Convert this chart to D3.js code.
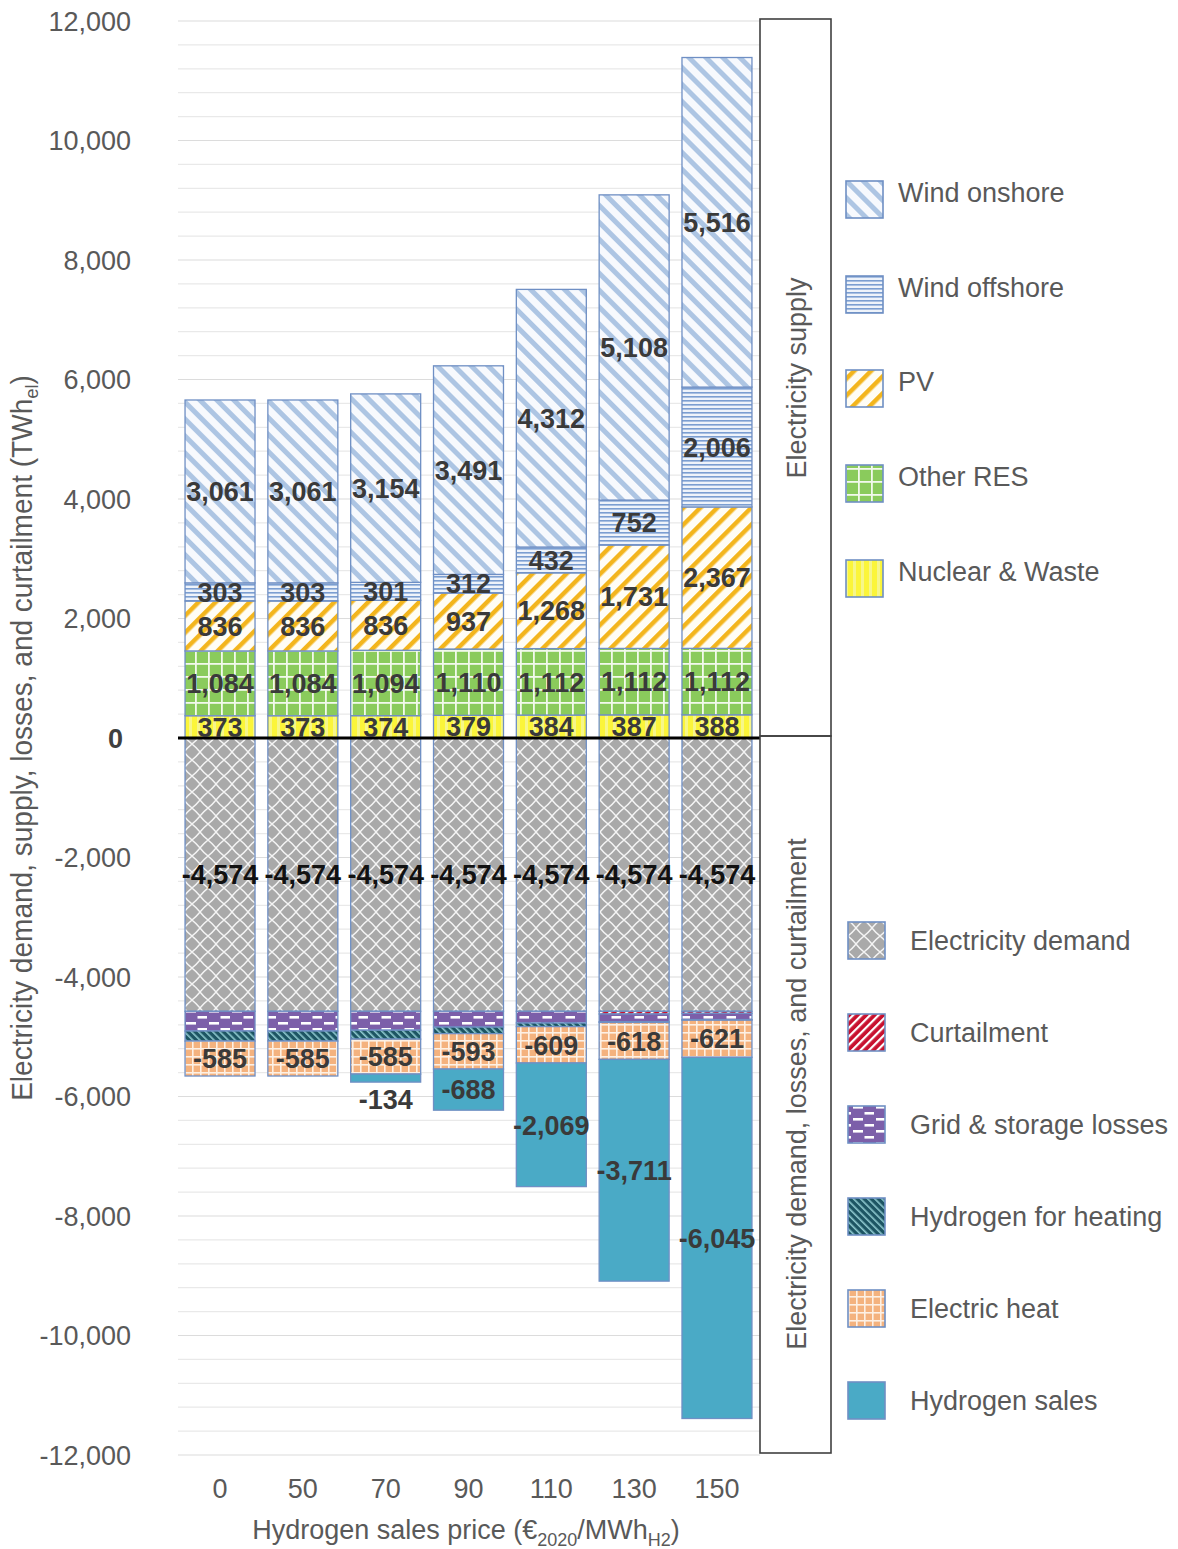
<!DOCTYPE html>
<html>
<head>
<meta charset="utf-8">
<script src="https://cdn.jsdelivr.net/npm/d3@7"></script>
<style>
  body { margin: 0; background: #fff; }
  text { font-family: "Liberation Sans", Arial, sans-serif; }
</style>
</head>
<body>
<svg id="chart" width="1178" height="1549"></svg>
<script>
// Hydrogen sales price scenarios (€2020/MWh H2)
const categories = ["0", "50", "70", "90", "110", "130", "150"];

// Electricity supply (TWh_el)
const nuclearWaste = [373, 373, 374, 379, 384, 387, 388];
const otherRES     = [1084, 1084, 1094, 1110, 1112, 1112, 1112];
const pv           = [836, 836, 836, 937, 1268, 1731, 2367];
const windOffshore = [303, 303, 301, 312, 432, 752, 2006];
const windOnshore  = [3061, 3061, 3154, 3491, 4312, 5108, 5516];

// Electricity demand, losses and curtailment (TWh_el)
const electricityDemand = [-4574, -4574, -4574, -4574, -4574, -4574, -4574];
const curtailment       = [0, 0, 0, 0, 0, -45, -35];
const gridStorageLosses = [-330, -330, -316, -264, -196, -130, -104];
const hydrogenHeating   = [-168, -168, -150, -110, -60, -12, -10];
const electricHeat      = [-585, -585, -585, -593, -609, -618, -621];
const hydrogenSales     = [0, 0, -134, -688, -2069, -3711, -6045];

const yTicks = [12000, 10000, 8000, 6000, 4000, 2000, 0, -2000, -4000, -6000, -8000, -10000, -12000];

const series = [
  { key: "nuclear",   name: "Nuclear & Waste",         values: nuclearWaste,      pat: "p-nuclear",  label: true },
  { key: "otherRES",  name: "Other RES",               values: otherRES,          pat: "p-other",    label: true },
  { key: "pv",        name: "PV",                      values: pv,                pat: "p-pv",       label: true },
  { key: "windOff",   name: "Wind offshore",           values: windOffshore,      pat: "p-windoff",  label: true },
  { key: "windOn",    name: "Wind onshore",            values: windOnshore,       pat: "p-windon",   label: true },
  { key: "demand",    name: "Electricity demand",      values: electricityDemand, pat: "p-demand",   label: true, dark: true },
  { key: "curt",      name: "Curtailment",             values: curtailment,       pat: "p-curt",     label: false },
  { key: "losses",    name: "Grid & storage losses",   values: gridStorageLosses, pat: "p-losses",   label: false },
  { key: "h2heat",    name: "Hydrogen for heating",    values: hydrogenHeating,   pat: "p-h2heat",   label: false },
  { key: "eheat",     name: "Electric heat",           values: electricHeat,      pat: "p-eheat",    label: true },
  { key: "h2sales",   name: "Hydrogen sales",          values: hydrogenSales,     pat: "p-h2sales",  label: true, outsideIfSmall: true }
];

const table = categories.map((c, i) => {
  const row = { cat: c };
  series.forEach(s => row[s.key] = s.values[i]);
  return row;
});

const svg = d3.select("#chart");
const defs = svg.append("defs");

// ---------- fill patterns ----------
function stripes(id, bg, fg, size, width, angle) {
  const p = defs.append("pattern").attr("id", id).attr("patternUnits", "userSpaceOnUse")
    .attr("width", size).attr("height", size).attr("patternTransform", `rotate(${angle})`);
  p.append("rect").attr("width", size).attr("height", size).attr("fill", bg);
  p.append("rect").attr("x", 0).attr("width", width).attr("height", size).attr("fill", fg);
}
stripes("p-windon", "#f7f9fd", "#adc5e3", 12, 5, -45);
stripes("p-pv", "#fffdf5", "#f3b51d", 12, 4.5, 45);
stripes("p-curt", "#c8102e", "#ffffff", 6, 2.2, 45);
stripes("p-h2heat", "#1d5563", "#8fc9cf", 5, 1.6, -45);

// Wind offshore: horizontal blue lines
{
  const p = defs.append("pattern").attr("id", "p-windoff").attr("patternUnits", "userSpaceOnUse")
    .attr("width", 8).attr("height", 4);
  p.append("rect").attr("width", 8).attr("height", 4).attr("fill", "#eef3fa");
  p.append("rect").attr("y", 0).attr("width", 8).attr("height", 1.6).attr("fill", "#7b9ed1");
}
// Nuclear & Waste: vertical yellow stripes
{
  const p = defs.append("pattern").attr("id", "p-nuclear").attr("patternUnits", "userSpaceOnUse")
    .attr("width", 8).attr("height", 8);
  p.append("rect").attr("width", 8).attr("height", 8).attr("fill", "#f6f68a");
  p.append("rect").attr("x", 0).attr("width", 5).attr("height", 8).attr("fill", "#fbf53a");
}
// Other RES: green with white grid
{
  const p = defs.append("pattern").attr("id", "p-other").attr("patternUnits", "userSpaceOnUse")
    .attr("width", 13).attr("height", 13);
  p.append("rect").attr("width", 13).attr("height", 13).attr("fill", "#8acb5c");
  p.append("rect").attr("x", 0).attr("width", 1.8).attr("height", 13).attr("fill", "#f2f9ec");
  p.append("rect").attr("y", 0).attr("width", 13).attr("height", 1.8).attr("fill", "#f2f9ec");
}
// Electricity demand: grey with white lattice
{
  const s = 16;
  const p = defs.append("pattern").attr("id", "p-demand").attr("patternUnits", "userSpaceOnUse")
    .attr("width", s).attr("height", s);
  p.append("rect").attr("width", s).attr("height", s).attr("fill", "#a9a9a9");
  p.append("path")
    .attr("d", `M0,${s/2} Q${s/4},${s/4 + 1} ${s/2},0 Q${3*s/4},${s/4 + 1} ${s},${s/2} Q${3*s/4},${3*s/4 - 1} ${s/2},${s} Q${s/4},${3*s/4 - 1} 0,${s/2}`)
    .attr("fill", "none").attr("stroke", "#f4f4f4").attr("stroke-width", 1.5);
}
// Grid & storage losses: purple with white dashes
{
  const p = defs.append("pattern").attr("id", "p-losses").attr("patternUnits", "userSpaceOnUse")
    .attr("width", 23).attr("height", 12);
  p.append("rect").attr("width", 23).attr("height", 12).attr("fill", "#7c5fa9");
  p.append("rect").attr("x", 2).attr("y", 2).attr("width", 10).attr("height", 2.6).attr("fill", "#ffffff");
  p.append("rect").attr("x", 13.5).attr("y", 8).attr("width", 10).attr("height", 2.6).attr("fill", "#ffffff");
}
// Electric heat: light orange with white grid
{
  const p = defs.append("pattern").attr("id", "p-eheat").attr("patternUnits", "userSpaceOnUse")
    .attr("width", 8).attr("height", 8);
  p.append("rect").attr("width", 8).attr("height", 8).attr("fill", "#f4b27e");
  p.append("rect").attr("x", 0).attr("width", 1.6).attr("height", 8).attr("fill", "#fdf0e4");
  p.append("rect").attr("y", 0).attr("width", 8).attr("height", 1.6).attr("fill", "#fdf0e4");
}
// Hydrogen sales: solid
{
  const p = defs.append("pattern").attr("id", "p-h2sales").attr("patternUnits", "userSpaceOnUse")
    .attr("width", 4).attr("height", 4);
  p.append("rect").attr("width", 4).attr("height", 4).attr("fill", "#4aaac6");
}

// ---------- scales ----------
const plotLeft = 178, plotRight = 759;
const x = d3.scaleBand().domain(categories).range([plotLeft, plotRight])
  .paddingInner(0.155).paddingOuter(0.085);
const y = d3.scaleLinear().domain([-12000, 12000]).range([1455, 21]);

// gridlines
svg.append("g").selectAll("line")
  .data(d3.range(-12000, 12001, 400))
  .join("line")
  .attr("x1", plotLeft).attr("x2", plotRight + 1)
  .attr("y1", d => y(d)).attr("y2", d => y(d))
  .attr("stroke", d => d % 2000 === 0 ? "#dcdcdc" : "#e9e9e9")
  .attr("stroke-width", 1.2);

// ---------- stacked bars ----------
const stack = d3.stack().keys(series.map(s => s.key)).offset(d3.stackOffsetDiverging);
const stacked = stack(table);

const barG = svg.append("g");
stacked.forEach((layer, li) => {
  const s = series[li];
  barG.append("g").selectAll("rect")
    .data(layer.filter(d => d[1] - d[0] !== 0))
    .join("rect")
    .attr("x", d => x(d.data.cat))
    .attr("width", x.bandwidth())
    .attr("y", d => y(Math.max(d[0], d[1])))
    .attr("height", d => Math.abs(y(d[0]) - y(d[1])))
    .attr("fill", `url(#${s.pat})`)
    .attr("stroke", "#6f8fc4")
    .attr("stroke-width", 1.3);
});

// zero line
svg.append("line")
  .attr("x1", plotLeft).attr("x2", plotRight + 1)
  .attr("y1", y(0)).attr("y2", y(0))
  .attr("stroke", "#000").attr("stroke-width", 3);

// ---------- value labels ----------
const comma = d3.format(",");
const fmt = v => comma(v).replace("\u2212", "-");
const labelG = svg.append("g");
stacked.forEach((layer, li) => {
  const s = series[li];
  if (!s.label) return;
  layer.forEach(d => {
    const v = d.data[s.key];
    if (v === 0) return;
    const y0 = y(d[0]), y1 = y(d[1]);
    const h = Math.abs(y0 - y1);
    let ly = (y0 + y1) / 2;
    if (s.outsideIfSmall && h < 14) ly = Math.max(y0, y1) + 17;
    labelG.append("text")
      .attr("x", x(d.data.cat) + x.bandwidth() / 2)
      .attr("y", ly)
      .attr("dy", "0.36em")
      .attr("text-anchor", "middle")
      .attr("font-size", 27)
      .attr("font-weight", "bold")
      .attr("fill", s.dark ? "#111" : "#3a3a3a")
      .text(fmt(v));
  });
});

// ---------- axes ----------
const yAxis = svg.append("g");
yAxis.selectAll("text")
  .data(yTicks)
  .join("text")
  .attr("x", d => d === 0 ? 123 : 131)
  .attr("y", d => y(d))
  .attr("dy", "0.36em")
  .attr("text-anchor", "end")
  .attr("font-size", 27)
  .attr("font-weight", d => d === 0 ? "bold" : "normal")
  .attr("fill", d => d === 0 ? "#404040" : "#595959")
  .text(d => fmt(d));

svg.append("g").selectAll("text")
  .data(categories)
  .join("text")
  .attr("x", d => x(d) + x.bandwidth() / 2)
  .attr("y", 1488)
  .attr("dy", "0.36em")
  .attr("text-anchor", "middle")
  .attr("font-size", 27)
  .attr("fill", "#595959")
  .text(d => d);

// x axis title
{
  const t = svg.append("text")
    .attr("x", 466).attr("y", 1539)
    .attr("text-anchor", "middle")
    .attr("font-size", 27)
    .attr("fill", "#595959");
  t.append("tspan").text("Hydrogen sales price (€");
  t.append("tspan").attr("font-size", 18).attr("dy", 7).text("2020");
  t.append("tspan").attr("dy", -7).text("/MWh");
  t.append("tspan").attr("font-size", 18).attr("dy", 7).text("H2");
  t.append("tspan").attr("dy", -7).text(")");
}

// y axis title (condensed to fit the axis height)
{
  const t = svg.append("text")
    .attr("text-anchor", "middle")
    .attr("font-size", 29)
    .attr("fill", "#595959");
  t.append("tspan").text("Electricity demand, supply, losses, and curtailment (TWh");
  t.append("tspan").attr("font-size", 19).attr("dy", 6).text("el");
  t.append("tspan").attr("dy", -6).text(")");
  const len = t.node().getComputedTextLength();
  const target = 726;
  t.attr("transform", `translate(32,738) rotate(-90) scale(${target / len},1)`);
}

// ---------- side boxes ----------
svg.append("rect").attr("x", 760).attr("y", 19).attr("width", 71).attr("height", 717)
  .attr("fill", "none").attr("stroke", "#404040").attr("stroke-width", 1.6);
svg.append("rect").attr("x", 760).attr("y", 736).attr("width", 71).attr("height", 717)
  .attr("fill", "none").attr("stroke", "#404040").attr("stroke-width", 1.6);
svg.append("text").attr("transform", "translate(796,378) rotate(-90)")
  .attr("text-anchor", "middle").attr("dy", "0.36em")
  .attr("font-size", 27).attr("fill", "#595959").text("Electricity supply");
svg.append("text").attr("transform", "translate(796,1094) rotate(-90)")
  .attr("text-anchor", "middle").attr("dy", "0.36em")
  .attr("font-size", 27).attr("fill", "#595959").text("Electricity demand, losses, and curtailment");

// ---------- legends ----------
const supplyLegend = ["windOn", "windOff", "pv", "otherRES", "nuclear"];
const supplyLegendY = [192, 287, 381, 476, 571];
const demandLegend = ["demand", "curt", "losses", "h2heat", "eheat", "h2sales"];
const demandLegendY = [940, 1032, 1124, 1216, 1308, 1400];

const legG = svg.append("g");
supplyLegend.forEach((k, i) => {
  const s = series.find(d => d.key === k);
  const cy = supplyLegendY[i];
  legG.append("rect").attr("x", 846).attr("y", cy - 11).attr("width", 37).attr("height", 37)
    .attr("fill", `url(#${s.pat})`).attr("stroke", "#6f8fc4").attr("stroke-width", 1.6);
  legG.append("text").attr("x", 898).attr("y", cy).attr("dy", "0.36em")
    .attr("font-size", 27).attr("fill", "#595959").text(s.name);
});
demandLegend.forEach((k, i) => {
  const s = series.find(d => d.key === k);
  const cy = demandLegendY[i];
  legG.append("rect").attr("x", 848).attr("y", cy - 18).attr("width", 37).attr("height", 37)
    .attr("fill", `url(#${s.pat})`).attr("stroke", "#6f8fc4").attr("stroke-width", 1.6);
  legG.append("text").attr("x", 910).attr("y", cy).attr("dy", "0.36em")
    .attr("font-size", 27).attr("fill", "#595959").text(s.name);
});
</script>
</body>
</html>
